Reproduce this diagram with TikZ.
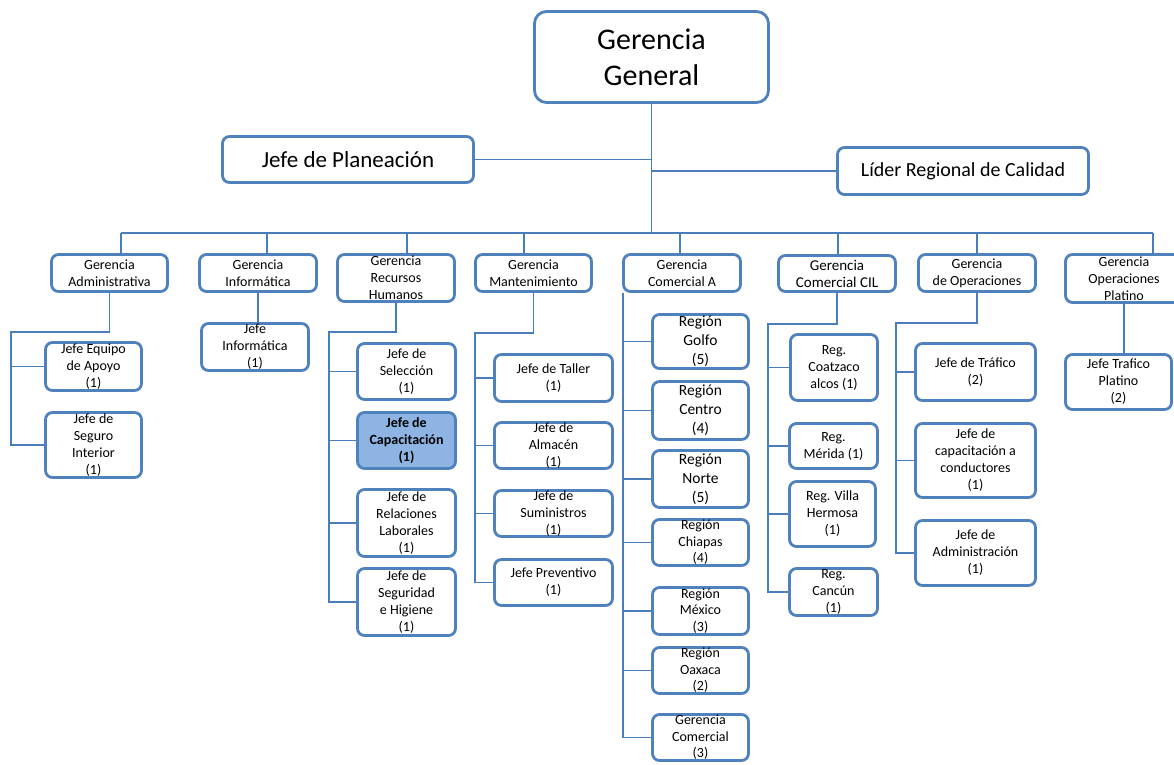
\documentclass[tikz,border=0pt]{standalone}
\usepackage{fontspec}
\setmainfont{Carlito}
\newlength{\du}
\setlength{\du}{1pt}
\definecolor{boxline}{rgb}{0.309804, 0.505882, 0.741176}
\definecolor{linkline}{rgb}{0.290196, 0.494118, 0.733333}
\definecolor{capfill}{rgb}{0.552941, 0.705882, 0.886275}
\tikzset{
  orgbox/.style={draw=boxline, line width=2.800000\du, rounded corners=7.000000\du, fill=white,
    align=center, inner sep=0pt, font=\fontsize{14}{17}\selectfont},
  bigbox/.style={orgbox, rounded corners=12.000000\du},
  regbox/.style={orgbox, font=\fontsize{15.5}{19}\selectfont},
  link/.style={draw=linkline, line width=1.400000\du},
}

\begin{document}
\begin{tikzpicture}
\pgftransformxscale{1.000000}
\pgftransformyscale{-1.000000}
\useasboundingbox (0.000000\du,0.000000\du) rectangle (1174.000000\du,764.000000\du);
% top
\node[bigbox, minimum width=234\du, minimum height=91\du, font=\fontsize{30}{36}\selectfont] (gg) at (651.500000\du,57.000000\du){Gerencia\\General};
\node[orgbox, minimum width=251\du, minimum height=46\du, font=\fontsize{23}{28}\selectfont] (jplan) at (348.000000\du,159.500000\du){Jefe de Planeación};
\node[orgbox, minimum width=251\du, minimum height=47\du, font=\fontsize{20}{24}\selectfont] (lider) at (963.000000\du,171.000000\du){Líder Regional de Calidad};
% gerencias
\node[orgbox, minimum width=116\du, minimum height=37\du] (gadm) at (109.500000\du,273.000000\du){Gerencia\\Administrativa};
\node[orgbox, minimum width=117\du, minimum height=37\du] (ginf) at (258.000000\du,273.000000\du){Gerencia\\Informática};
\node[orgbox, minimum width=117\du, minimum height=47\du] (grh) at (396.000000\du,278.000000\du){Gerencia\\Recursos\\Humanos};
\node[orgbox, minimum width=116\du, minimum height=37\du] (gman) at (533.500000\du,273.000000\du){Gerencia\\Mantenimiento};
\node[orgbox, minimum width=117\du, minimum height=37\du] (gca) at (682.000000\du,273.000000\du){Gerencia\\Comercial A};
\node[orgbox, minimum width=117\du, minimum height=36\du, font=\fontsize{15}{17}\selectfont] (gcil) at (837.000000\du,273.500000\du){Gerencia\\Comercial CIL};
\node[orgbox, minimum width=117\du, minimum height=37\du] (gop) at (977.000000\du,273.000000\du){Gerencia\\de Operaciones};
\node[orgbox, minimum width=117\du, minimum height=48\du] (gopp) at (1124.000000\du,278.500000\du){Gerencia\\Operaciones\\Platino};
% administrativa
\node[orgbox, minimum width=96\du, minimum height=48\du] (jeq) at (93.500000\du,366.500000\du){Jefe Equipo\\de Apoyo\\(1)};
\node[orgbox, minimum width=96\du, minimum height=65\du] (jseg) at (93.500000\du,445.000000\du){Jefe de\\Seguro\\Interior\\(1)};
% informatica
\node[orgbox, minimum width=107\du, minimum height=47\du] (jinf) at (255.000000\du,347.000000\du){Jefe\\Informática\\(1)};
% recursos humanos
\node[orgbox, minimum width=98\du, minimum height=56\du] (jsel) at (406.500000\du,371.500000\du){Jefe de\\Selección\\(1)};
\node[orgbox, minimum width=98\du, minimum height=56\du, fill=capfill, font=\fontsize{14}{17}\selectfont\bfseries] (jcap) at (406.500000\du,440.500000\du){Jefe de\\Capacitación\\(1)};
\node[orgbox, minimum width=98\du, minimum height=67\du] (jrel) at (406.500000\du,523.000000\du){Jefe de\\Relaciones\\Laborales\\(1)};
\node[orgbox, minimum width=98\du, minimum height=67\du] (jshig) at (406.500000\du,602.000000\du){Jefe de\\Seguridad\\e Higiene\\(1)};
% mantenimiento
\node[orgbox, minimum width=118\du, minimum height=47\du] (jtal) at (553.500000\du,378.000000\du){Jefe de Taller\\(1)};
\node[orgbox, minimum width=118\du, minimum height=46\du] (jalm) at (553.500000\du,445.500000\du){Jefe de\\Almacén\\(1)};
\node[orgbox, minimum width=118\du, minimum height=46\du] (jsum) at (553.500000\du,513.500000\du){Jefe de\\Suministros\\(1)};
\node[orgbox, minimum width=118\du, minimum height=46\du] (jprev) at (553.500000\du,582.500000\du){Jefe Preventivo\\(1)};
% comercial A
\node[regbox, minimum width=96\du, minimum height=54\du] (rgol) at (700.500000\du,341.500000\du){Región\\Golfo\\(5)};
\node[regbox, minimum width=96\du, minimum height=58\du] (rcen) at (700.500000\du,410.500000\du){Región\\Centro\\(4)};
\node[regbox, minimum width=96\du, minimum height=57\du] (rnor) at (700.500000\du,479.000000\du){Región\\Norte\\(5)};
\node[orgbox, minimum width=96\du, minimum height=46\du, font=\fontsize{14}{16.5}\selectfont] (rchi) at (700.500000\du,542.500000\du){Región\\Chiapas\\(4)};
\node[orgbox, minimum width=96\du, minimum height=47\du, font=\fontsize{14}{16.5}\selectfont] (rmex) at (700.500000\du,611.000000\du){Región\\México\\(3)};
\node[orgbox, minimum width=96\du, minimum height=46\du, font=\fontsize{14}{16.5}\selectfont] (roax) at (700.500000\du,670.500000\du){Región\\Oaxaca\\(2)};
\node[orgbox, minimum width=96\du, minimum height=46\du, font=\fontsize{14}{16.5}\selectfont] (gcom) at (700.500000\du,737.500000\du){Gerencia\\Comercial\\(3)};
% comercial CIL
\node[orgbox, minimum width=87\du, minimum height=66\du] (rcoa) at (834.000000\du,367.500000\du){Reg.\\Coatzaco\\alcos (1)};
\node[orgbox, minimum width=88\du, minimum height=45\du] (rmer) at (833.500000\du,446.000000\du){Reg.\\Mérida (1)};
\node[orgbox, minimum width=86\du, minimum height=65\du] (rvil) at (832.500000\du,514.000000\du){Reg. Villa\\Hermosa\\(1)};
\node[orgbox, minimum width=88\du, minimum height=47\du] (rcan) at (833.500000\du,592.000000\du){Reg.\\Cancún\\(1)};
% operaciones
\node[orgbox, minimum width=120\du, minimum height=57\du] (jtraf) at (975.500000\du,372.000000\du){Jefe de Tráfico\\(2)};
\node[orgbox, minimum width=120\du, minimum height=74\du] (jccon) at (975.500000\du,460.500000\du){Jefe de\\capacitación a\\conductores\\(1)};
\node[orgbox, minimum width=120\du, minimum height=65\du] (jadm) at (975.500000\du,553.000000\du){Jefe de\\Administración\\(1)};
% platino
\node[orgbox, minimum width=106\du, minimum height=55\du] (jtpl) at (1118.500000\du,382.000000\du){Jefe Trafico\\Platino\\(2)};

% trunk
\coordinate (bar) at (651.500000\du,233.000000\du);
\draw[link] (gg.south) -- (bar);
\draw[link] (jplan.east) -- (jplan.east -| gg.south);
\draw[link] (lider.west) -- (lider.west -| gg.south);
\coordinate (dadm) at (121.000000\du,233.000000\du);
\coordinate (dinf) at (267.000000\du,233.000000\du);
\coordinate (drh) at (407.000000\du,233.000000\du);
\coordinate (dman) at (524.000000\du,233.000000\du);
\coordinate (dca) at (680.000000\du,233.000000\du);
\coordinate (dcil) at (838.000000\du,233.000000\du);
\coordinate (dop) at (977.000000\du,233.000000\du);
\coordinate (dopp) at (1153.000000\du,233.000000\du);
\draw[link] (dadm) -- (dopp);
\draw[link] (dadm) -- (dadm |- gadm.north);
\draw[link] (dinf) -- (dinf |- ginf.north);
\draw[link] (drh) -- (drh |- grh.north);
\draw[link] (dman) -- (dman |- gman.north);
\draw[link] (dca) -- (dca |- gca.north);
\draw[link] (dcil) -- (dcil |- gcil.north);
\draw[link] (dop) -- (dop |- gop.north);
\draw[link] (dopp) -- (dopp |- gopp.north);
% administrativa
\coordinate (sadm) at (11.000000\du,332.000000\du);
\draw[link] (gadm.south) |- (sadm) |- (jseg.west);
\draw[link] (sadm |- jeq.west) -- (jeq.west);
% informatica
\draw[link] (ginf.south) -- (ginf.south |- jinf.north);
% recursos humanos
\coordinate (srh) at (329.000000\du,332.000000\du);
\draw[link] (grh.south) |- (srh) |- (jshig.west);
\draw[link] (srh |- jsel.west) -- (jsel.west);
\draw[link] (srh |- jcap.west) -- (jcap.west);
\draw[link] (srh |- jrel.west) -- (jrel.west);
% mantenimiento
\coordinate (sman) at (475.000000\du,333.000000\du);
\draw[link] (gman.south) |- (sman) |- (jprev.west);
\draw[link] (sman |- jtal.west) -- (jtal.west);
\draw[link] (sman |- jalm.west) -- (jalm.west);
\draw[link] (sman |- jsum.west) -- (jsum.west);
% comercial A
\coordinate (sca) at (623.000000\du,293.000000\du);
\draw[link] (sca) |- (gcom.west);
\draw[link] (sca |- rgol.west) -- (rgol.west);
\draw[link] (sca |- rcen.west) -- (rcen.west);
\draw[link] (sca |- rnor.west) -- (rnor.west);
\draw[link] (sca |- rchi.west) -- (rchi.west);
\draw[link] (sca |- rmex.west) -- (rmex.west);
\draw[link] (sca |- roax.west) -- (roax.west);
% comercial CIL
\coordinate (scil) at (768.000000\du,324.000000\du);
\draw[link] (gcil.south) |- (scil) |- (rcan.west);
\draw[link] (scil |- rcoa.west) -- (rcoa.west);
\draw[link] (scil |- rmer.west) -- (rmer.west);
\draw[link] (scil |- rvil.west) -- (rvil.west);
% operaciones
\coordinate (sop) at (896.000000\du,323.000000\du);
\draw[link] (gop.south) |- (sop) |- (jadm.west);
\draw[link] (sop |- jtraf.west) -- (jtraf.west);
\draw[link] (sop |- jccon.west) -- (jccon.west);
% platino
\draw[link] (gopp.south) -- (gopp.south |- jtpl.north);
\end{tikzpicture}
\end{document}
